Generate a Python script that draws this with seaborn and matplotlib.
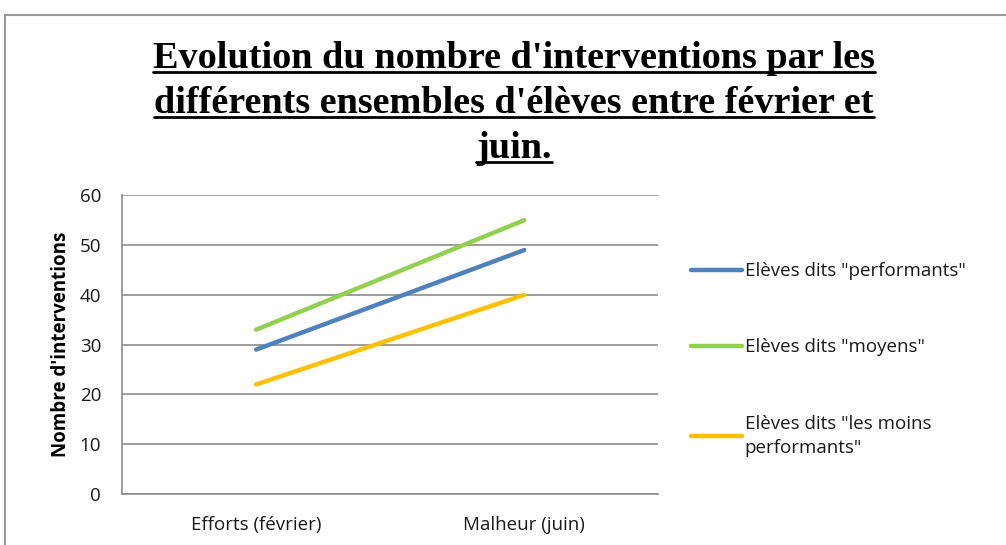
import matplotlib.pyplot as plt
import pandas as pd
import seaborn as sns
from matplotlib.lines import Line2D

periodes = ["Efforts (février)", "Malheur (juin)"]
groupes = ['Elèves dits "performants"', 'Elèves dits "moyens"',
           'Elèves dits "les moins\nperformants"']
performants = [29, 49]
moyens = [33, 55]
moins_performants = [22, 40]
couleurs = ["#4F81BD", "#92D050", "#FFC000"]
titre = ["Evolution du nombre d'interventions par les",
         "différents ensembles d'élèves entre février et",
         "juin."]

df = pd.DataFrame({
    "periode": periodes * 3,
    "groupe": [groupes[0]] * 2 + [groupes[1]] * 2 + [groupes[2]] * 2,
    "valeur": performants + moyens + moins_performants,
})

sns.set_style("white")
plt.rcParams['font.family'] = ['Open Sans', 'DejaVu Sans']
plt.rcParams['text.color'] = "#1a1a1a"

fig = plt.figure(figsize=(10.06, 5.45), dpi=100)
ax = fig.add_axes([0.1213, 0.0936, 0.533, 0.548])

sns.lineplot(data=df, x="periode", y="valeur", hue="groupe", palette=couleurs,
             linewidth=3.2, ax=ax, sort=False, solid_capstyle="round")

ax.set_xlim(-0.5, 1.5)
ax.set_ylim(0, 60)
ax.set_yticks(range(0, 61, 10))
ax.set_xticks([-0.5, 0.5, 1.5], minor=False)
ax.set_xticklabels(["", "", ""])
ax.set_xticks([0, 1], minor=True)
ax.set_xticklabels(periodes, minor=True)
ax.tick_params(axis="x", which="minor", length=0, pad=16, labelsize=13.5, labelcolor="#1a1a1a")
ax.tick_params(axis="x", which="major", length=6, color="#888888", direction="out")
ax.tick_params(axis="y", length=6, color="#888888", direction="out", labelsize=13.5,
               labelcolor="#1a1a1a", pad=9)
ax.yaxis.grid(True, color="#8c8c8c", linewidth=1.2)
ax.xaxis.grid(False)
for s in ["top", "right"]:
    ax.spines[s].set_visible(False)
for s in ["left", "bottom"]:
    ax.spines[s].set_color("#8c8c8c")
    ax.spines[s].set_linewidth(1.2)
ax.set_xlabel("")
ax.set_ylabel("Nombre d'interventions", fontsize=13.5, fontweight="bold", labelpad=6,
              color="black")

leg = ax.legend(loc="center left", bbox_to_anchor=(1.03, 0.45), frameon=False, fontsize=13.5,
                handlelength=2.7, handletextpad=0.15, labelspacing=3.1)
for t in leg.get_texts():
    t.set_linespacing(1.45)

# titre souligné
fig.canvas.draw()
renderer = fig.canvas.get_renderer()
for i, ligne in enumerate(titre):
    t = fig.text(0.511, 1 - (58 + 45 * i) / 545, ligne, ha="center", va="center",
                 fontsize=27.5, fontweight="bold", family="Liberation Serif", color="black")
    bb = t.get_window_extent(renderer=renderer).transformed(fig.transFigure.inverted())
    y = bb.y0 + 0.006
    fig.add_artist(Line2D([bb.x0, bb.x1], [y, y], transform=fig.transFigure,
                          color="black", linewidth=2))

# cadre
fig.add_artist(Line2D([0.005, 1.0], [1 - 15 / 545, 1 - 15 / 545], transform=fig.transFigure,
                      color="#999999", linewidth=1.5))
fig.add_artist(Line2D([0.005, 0.005], [0, 1 - 15 / 545], transform=fig.transFigure,
                      color="#999999", linewidth=1.5))

fig.savefig("out.png", dpi=100)
